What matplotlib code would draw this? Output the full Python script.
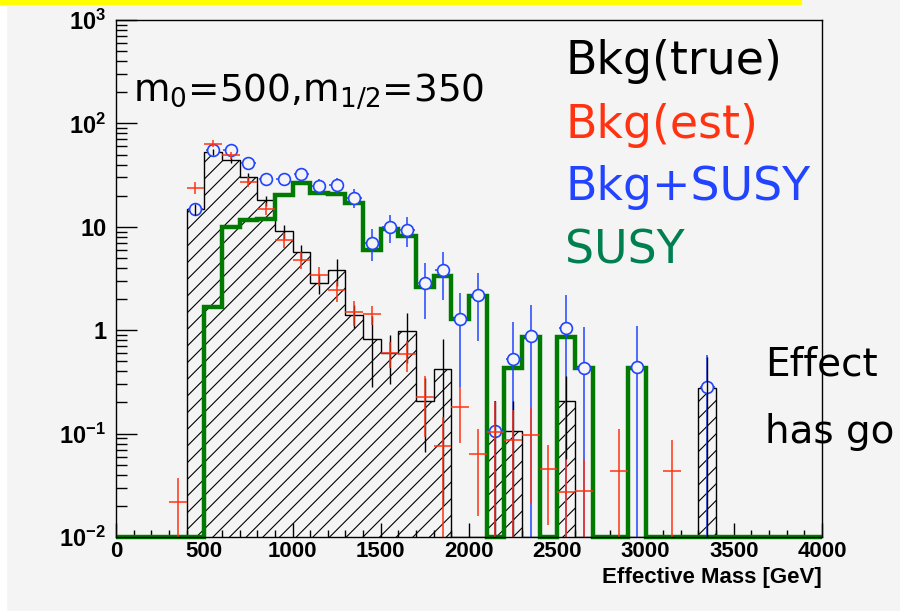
import numpy as np
import matplotlib.pyplot as plt
from matplotlib.patches import Rectangle
from matplotlib.ticker import MultipleLocator, NullFormatter, FixedLocator

# binning: 40 bins of 100 GeV, 0 - 4000
edges = np.arange(0, 4100, 100)
centers = edges[:-1] + 50

# Bkg(true) - hatched histogram
bkg_true = [0, 0, 0, 0, 14.7, 52.8, 44.6, 30.3, 18.0, 9.05,
            5.7, 2.83, 3.8, 1.40, 0.83, 0.60, 0.98, 0.206, 0.42, 0,
            0, 0.105, 0.105, 0, 0, 0.207, 0, 0, 0, 0,
            0, 0, 0, 0.277, 0, 0, 0, 0, 0, 0]
bkg_true_err = [0, 0, 0, 0, 1.8, 3.5, 3.2, 2.6, 2.0, 1.4,
                1.0, 0.6, 1.1, 0.35, 0.55, 0.3, 0.5, 0.14, 0.4, 0,
                0, 0.1, 0.1, 0, 0, 0.15, 0, 0, 0, 0,
                0, 0, 0, 0.27, 0, 0, 0, 0, 0, 0]

# Bkg(est)
bkg_est = [0, 0, 0, 0.022, 23.9, 63.7, 49.0, 27.0, 15.0, 7.5,
           4.8, 3.4, 2.43, 1.50, 1.43, 0.60, 0.59, 0.227, 0.076, 0.182,
           0.064, 0.104, 0.087, 0.098, 0.045, 0.027, 0.028, 0, 0.043, 0,
           0, 0.043, 0, 0, 0, 0, 0, 0, 0, 0]
bkg_est_err = [0, 0, 0, 0.015, 3.0, 5.0, 4.0, 3.0, 2.0, 1.2,
               0.9, 0.7, 0.55, 0.4, 0.3, 0.17, 0.2, 0.135, 0.07, 0.1,
               0.048, 0.1, 0.083, 0.077, 0.032, 0.029, 0.029, 0, 0.069, 0,
               0, 0.043, 0, 0, 0, 0, 0, 0, 0, 0]

# Bkg+SUSY
bkg_susy = [0, 0, 0, 0, 14.7, 54.8, 54.8, 41.7, 29.2, 29.2,
            32.7, 24.8, 25.2, 19.1, 7.04, 9.95, 9.4, 2.87, 3.86, 1.28,
            2.18, 0.106, 0.53, 0.88, 0, 1.04, 0.43, 0, 0, 0.436,
            0, 0, 0, 0.283, 0, 0, 0, 0, 0, 0]
bkg_susy_err = [0, 0, 0, 0, 1.8, 3.8, 3.8, 3.5, 3.5, 3.8,
                4.5, 4.2, 4.2, 4.0, 2.4, 3.0, 3.0, 1.6, 1.9, 1.0,
                1.4, 0.1, 0.68, 0.88, 0, 1.15, 0.65, 0, 0, 0.65,
                0, 0, 0, 0.29, 0, 0, 0, 0, 0, 0]

# SUSY
susy = [0, 0, 0, 0, 0, 1.68, 9.96, 11.6, 12.0, 20.5,
        26.8, 21.2, 20.9, 17.1, 6.03, 9.46, 8.09, 2.62, 3.32, 1.28,
        2.13, 0, 0.427, 0.86, 0, 0.86, 0.427, 0, 0, 0.427,
        0, 0, 0, 0, 0, 0, 0, 0, 0, 0]

bkg_true = np.array(bkg_true)
bkg_true_err = np.array(bkg_true_err)
bkg_est = np.array(bkg_est)
bkg_est_err = np.array(bkg_est_err)
bkg_susy = np.array(bkg_susy)
bkg_susy_err = np.array(bkg_susy_err)
susy = np.array(susy)

ymin, ymax = 1e-2, 1e3
bg = '#f4f4f4'
red = '#ff3311'
blue = '#2244ff'
green = '#007a00'

plt.rcParams['hatch.linewidth'] = 0.8

fig = plt.figure(figsize=(9, 6.11), dpi=100, facecolor=bg)
fig.patches.append(Rectangle((0, 0), 6 / 900, 1, transform=fig.transFigure,
                             color='white', zorder=0))
fig.patches.append(Rectangle((0, 1 - 3.5 / 611), 801 / 900, 3.5 / 611,
                             transform=fig.transFigure, color='#ffff00', zorder=0))

ax = fig.add_axes([116 / 900, 1 - 537 / 611, 706 / 900, 517 / 611])
ax.set_facecolor(bg)
ax.set_yscale('log')
ax.set_xlim(0, 4000)
ax.set_ylim(ymin, ymax)

# hatched Bkg(true)
ax.stairs(np.maximum(bkg_true, ymin), edges, baseline=ymin, fill=True,
          facecolor='none', edgecolor='black', hatch='//', lw=1.0, zorder=1)

# SUSY thick outline
ax.stairs(np.maximum(susy, ymin), edges, baseline=ymin, fill=False,
          color=green, lw=3.2, zorder=3, clip_on=False)

# Bkg+SUSY points
m = bkg_susy > 0
ax.errorbar(centers[m], bkg_susy[m], xerr=42, yerr=bkg_susy_err[m], fmt='none',
            ecolor=blue, elinewidth=1.1, zorder=4)
ax.plot(centers[m], bkg_susy[m], 'o', ms=8.5, mfc=bg, mec=blue, mew=1.2, zorder=5)

# Bkg(true) errors
m = bkg_true > 0
ax.errorbar(centers[m], bkg_true[m], yerr=bkg_true_err[m], fmt='none',
            ecolor='black', elinewidth=1.0, zorder=6)

# Bkg(est) crosses
m = bkg_est > 0
ax.errorbar(centers[m], bkg_est[m], xerr=50, yerr=bkg_est_err[m], fmt='none',
            ecolor=red, elinewidth=1.1, zorder=7)

# axes styling
tick_font = ['Liberation Sans']
ax.xaxis.set_major_locator(MultipleLocator(500))
ax.xaxis.set_minor_locator(MultipleLocator(100))
ax.yaxis.set_major_locator(FixedLocator([1e-2, 1e-1, 1, 10, 1e2, 1e3]))
ax.yaxis.set_minor_formatter(NullFormatter())
ax.set_yticklabels([r'$\mathregular{10^{-2}}$', r'$\mathregular{10^{-1}}$', '1', '10',
                    r'$\mathregular{10^{2}}$', r'$\mathregular{10^{3}}$'])
ax.tick_params(which='both', direction='in', top=False, right=False)
ax.tick_params(axis='y', which='major', length=15, width=1, pad=7)
ax.tick_params(axis='y', which='minor', length=8, width=1)
ax.tick_params(axis='x', which='major', length=10, width=1, pad=3)
ax.tick_params(axis='x', which='minor', length=5, width=1)
for lab in ax.get_xticklabels():
    lab.set_family(tick_font)
    lab.set_fontweight('bold')
    lab.set_fontsize(16)
for lab in ax.get_yticklabels():
    lab.set_family(tick_font)
    lab.set_fontweight('bold')
    lab.set_fontsize(17)
for s in ax.spines.values():
    s.set_linewidth(1.0)
    s.set_zorder(8)

fig.text(822 / 900, 1 - 578 / 611, 'Effective Mass [GeV]', ha='right', va='center',
         family=tick_font, fontweight='bold', fontsize=16)

# annotations
txt_font = 'DejaVu Sans'
fig.text(133 / 900, 1 - 101 / 611, r'm$_{0}$=500,m$_{1/2}$=350',
         ha='left', va='baseline', family=txt_font, fontsize=27, color='black')
legend_rows = [('Bkg(true)', 'black'), ('Bkg(est)', red),
               ('Bkg+SUSY', blue), ('SUSY', '#008050')]
for i, (label, col) in enumerate(legend_rows):
    fig.text(565 / 900, 1 - (62 + 63 * i) / 611, label, ha='left', va='center',
             family=txt_font, fontsize=33, color=col)
fig.text(765 / 900, 1 - 365 / 611, 'Effect', ha='left', va='center',
         family=txt_font, fontsize=28, color='black')
fig.text(765 / 900, 1 - 432 / 611, 'has go', ha='left', va='center',
         family=txt_font, fontsize=28, color='black')

fig.savefig('out.png', dpi=100, facecolor=bg)
